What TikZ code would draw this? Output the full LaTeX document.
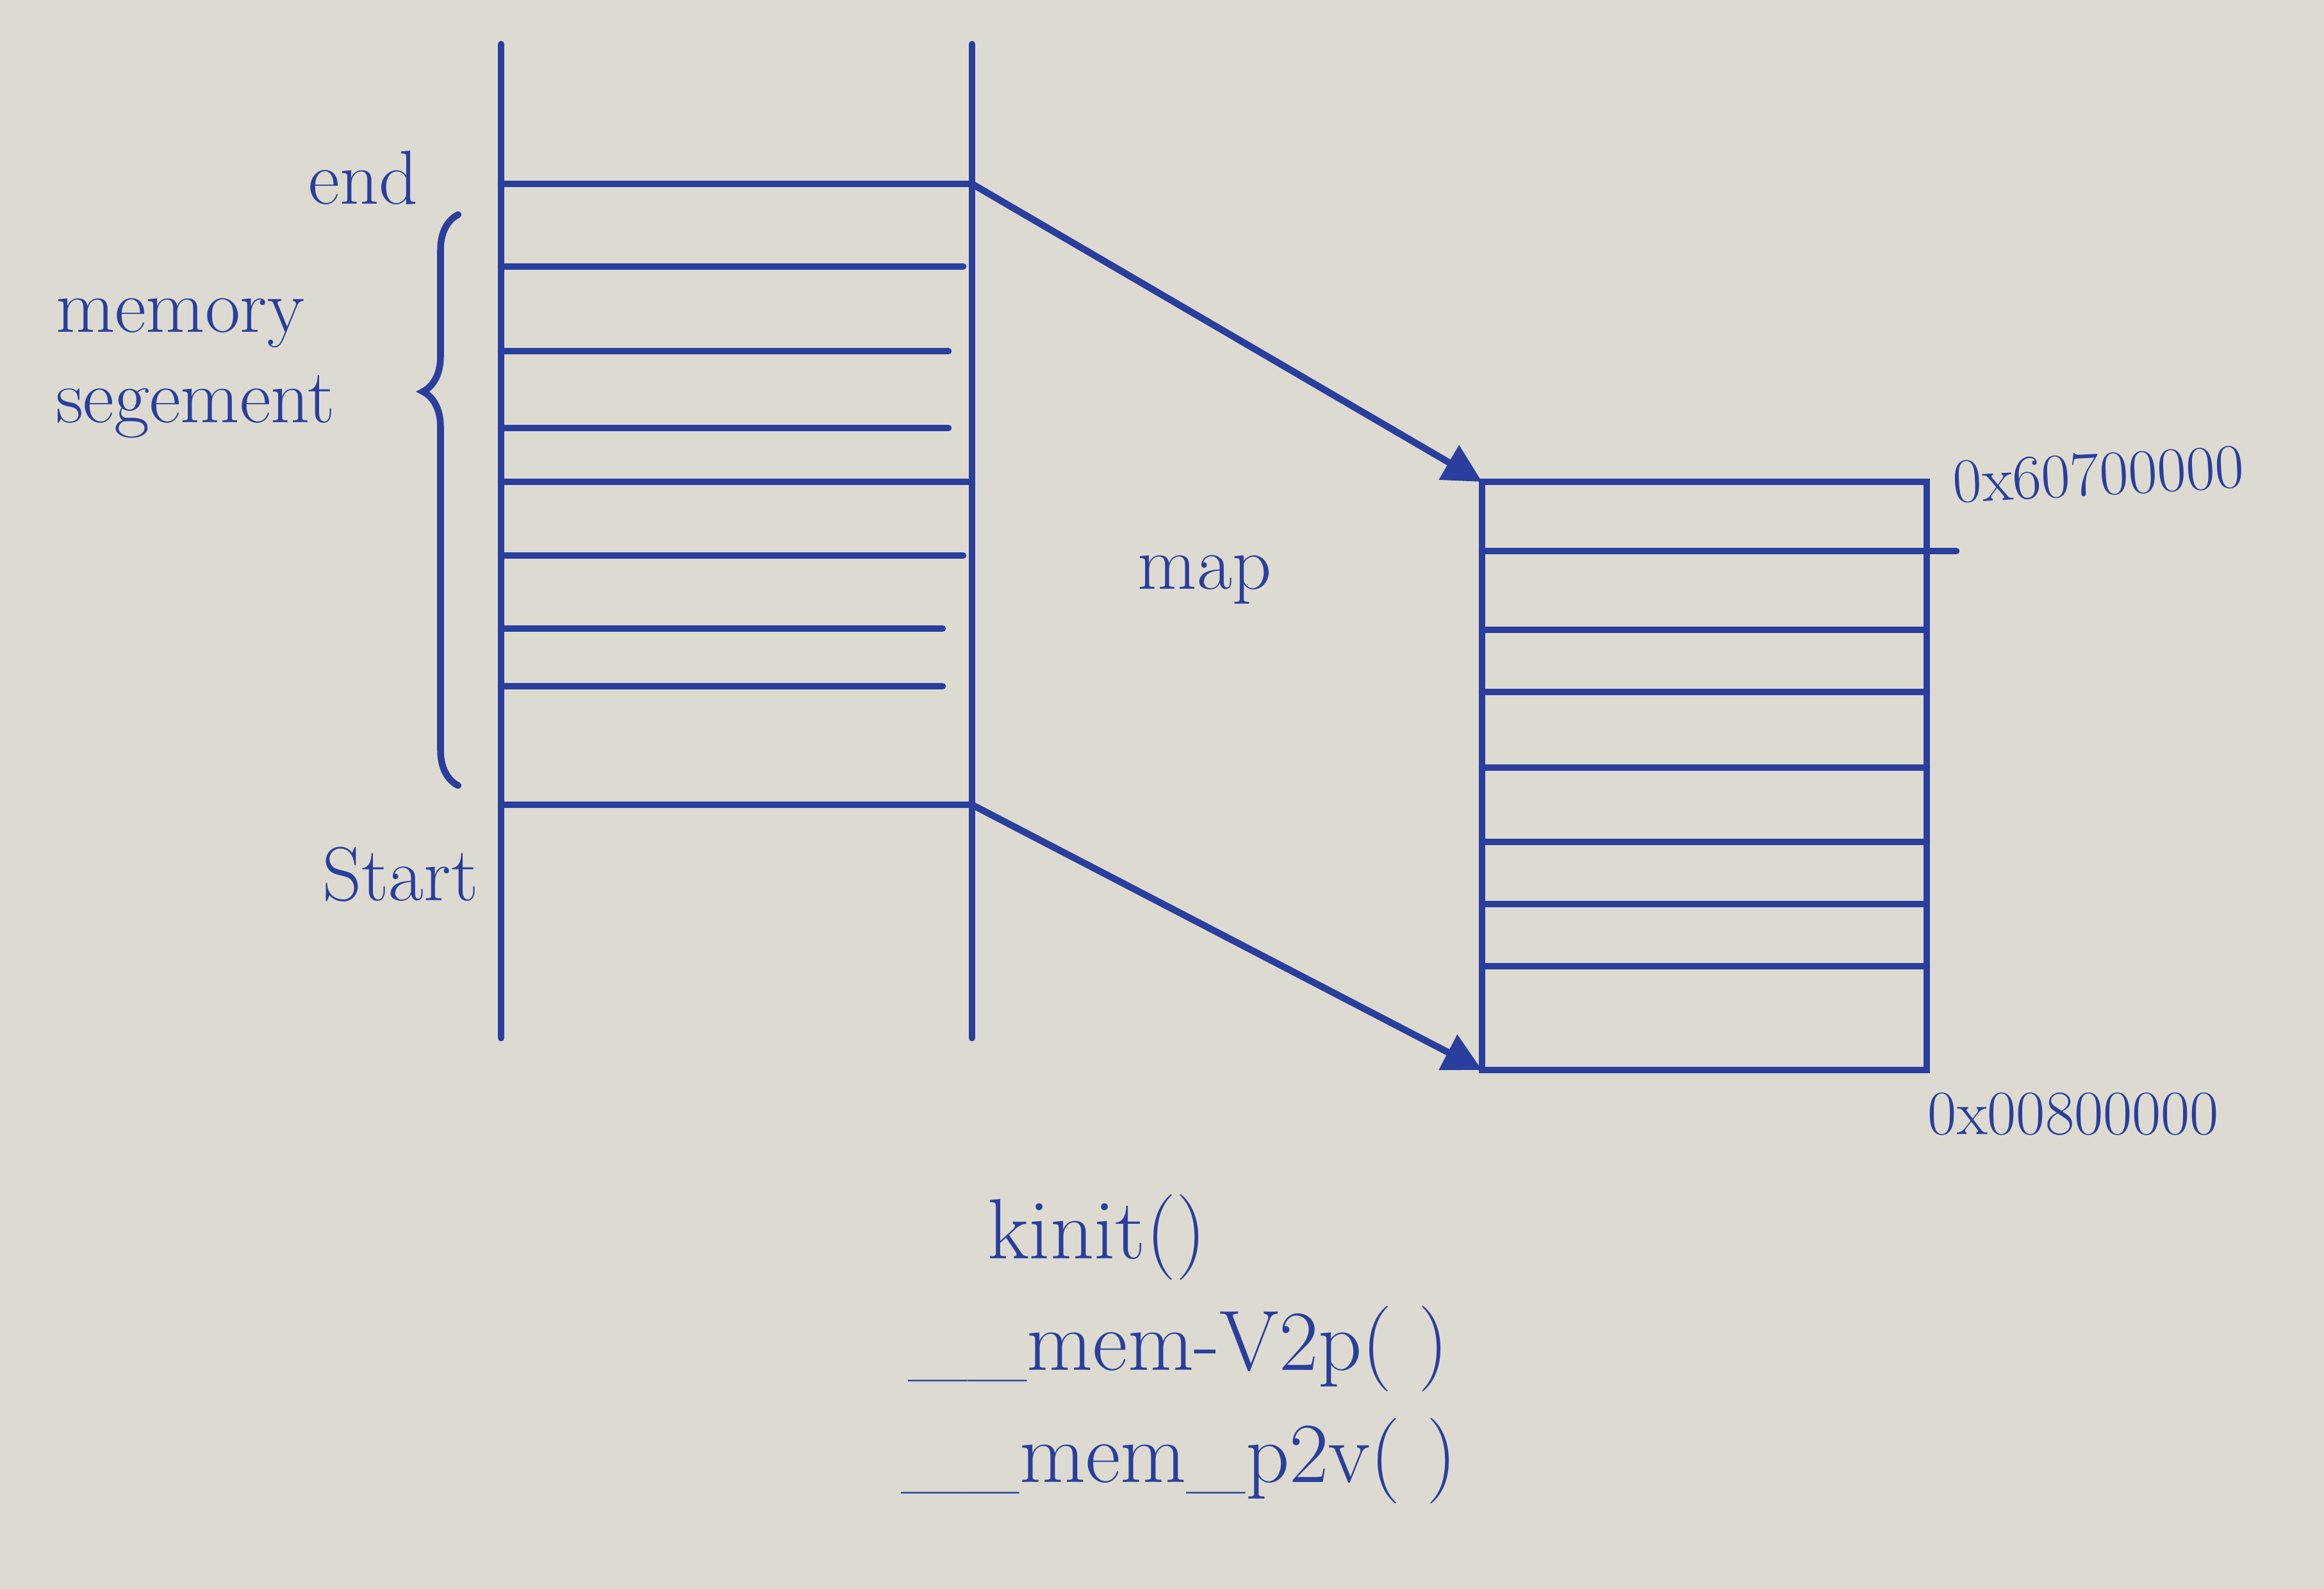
\documentclass[tikz,border=0pt]{standalone}
\usepackage{tikz}
\usetikzlibrary{arrows.meta,decorations.pathreplacing}
\definecolor{ink}{RGB}{42,62,158}
\definecolor{paper}{RGB}{221,219,209}
\tikzset{
  ink/.style={draw=ink, line width=3pt, line cap=round},
  lbl/.style={text=ink, font=\fontsize{34}{40}\selectfont, inner sep=0pt},
  hexlbl/.style={text=ink, font=\fontsize{28}{34}\selectfont, inner sep=0pt},
  fnlbl/.style={text=ink, font=\fontsize{38}{46}\selectfont, inner sep=0pt}
}

\begin{document}
\begin{tikzpicture}[>={Triangle[length=0.6cm, width=0.6cm]}]
  \fill[paper] (0,0) rectangle (36.27,-24.80);
  \useasboundingbox (0,0) rectangle (36.27,-24.80);
  % Left column (virtual memory)
  \coordinate (vTL) at (7.82,-0.69);
  \coordinate (vBL) at (7.82,-16.20);
  \coordinate (vTR) at (15.17,-0.69);
  \coordinate (vBR) at (15.17,-16.20);
  \draw[ink] (vTL) -- (vBL);
  \draw[ink] (vTR) -- (vBR);
  \coordinate (endL) at (7.82,-2.87);
  \coordinate (endR) at (15.17,-2.87);
  \coordinate (startL) at (7.82,-12.56);
  \coordinate (startR) at (15.17,-12.56);
  \draw[ink] (endL) -- (endR);
  \draw[ink] (startL) -- (startR);
  \foreach \y/\xe in {-4.16/15.03, -5.48/14.80, -6.68/14.80, -7.52/15.17,
                      -8.67/15.03, -9.81/14.71, -10.71/14.71}
    \draw[ink] (7.82,\y) -- (\xe,\y);
  % Labels of the left column
  \node[lbl] (endlbl) at (5.67,-2.78) {end};
  \node[lbl] (startlbl) at (6.25,-13.65) {Start};
  \node[lbl, align=left] (seglbl) at (3.05,-5.75) {memory\\segement};
  \draw[ink, decorate,
        decoration={brace, amplitude=0.55cm, aspect=0.69}]
    (7.15,-12.26) -- (7.15,-3.35);
  % Right column (physical memory)
  \coordinate (pTL) at (23.13,-7.52);
  \coordinate (pTR) at (30.07,-7.52);
  \coordinate (pBL) at (23.13,-16.70);
  \coordinate (pBR) at (30.07,-16.70);
  \draw[ink] (pTL) -- (pTR) -- (pBR) -- (pBL) -- cycle;
  \draw[ink] (23.13,-8.60) -- (30.53,-8.60);
  \foreach \y in {-9.83, -10.80, -11.98, -13.14, -14.11, -15.08}
    \draw[ink] (23.13,\y) -- (30.07,\y);
  \node[hexlbl, rotate=3] (toplbl) at (32.75,-7.40) {0x60700000};
  \node[hexlbl] (botlbl) at (32.36,-17.39) {0x00800000};
  % Mapping arrows
  \draw[ink, ->] (endR) -- (pTL);
  \draw[ink, ->] (startR) -- (pBL);
  \node[lbl] (maplbl) at (18.8,-9.05) {map};
  % Functions
  \node[fnlbl] (kinit) at (17.12,-19.31) {kinit()};
  \node[fnlbl] (v2p) at (18.39,-21.05) {\_\_mem-V2p( )};
  \node[fnlbl] (p2v) at (18.40,-22.80) {\_\_mem\_p2v( )};
\end{tikzpicture}
\end{document}
